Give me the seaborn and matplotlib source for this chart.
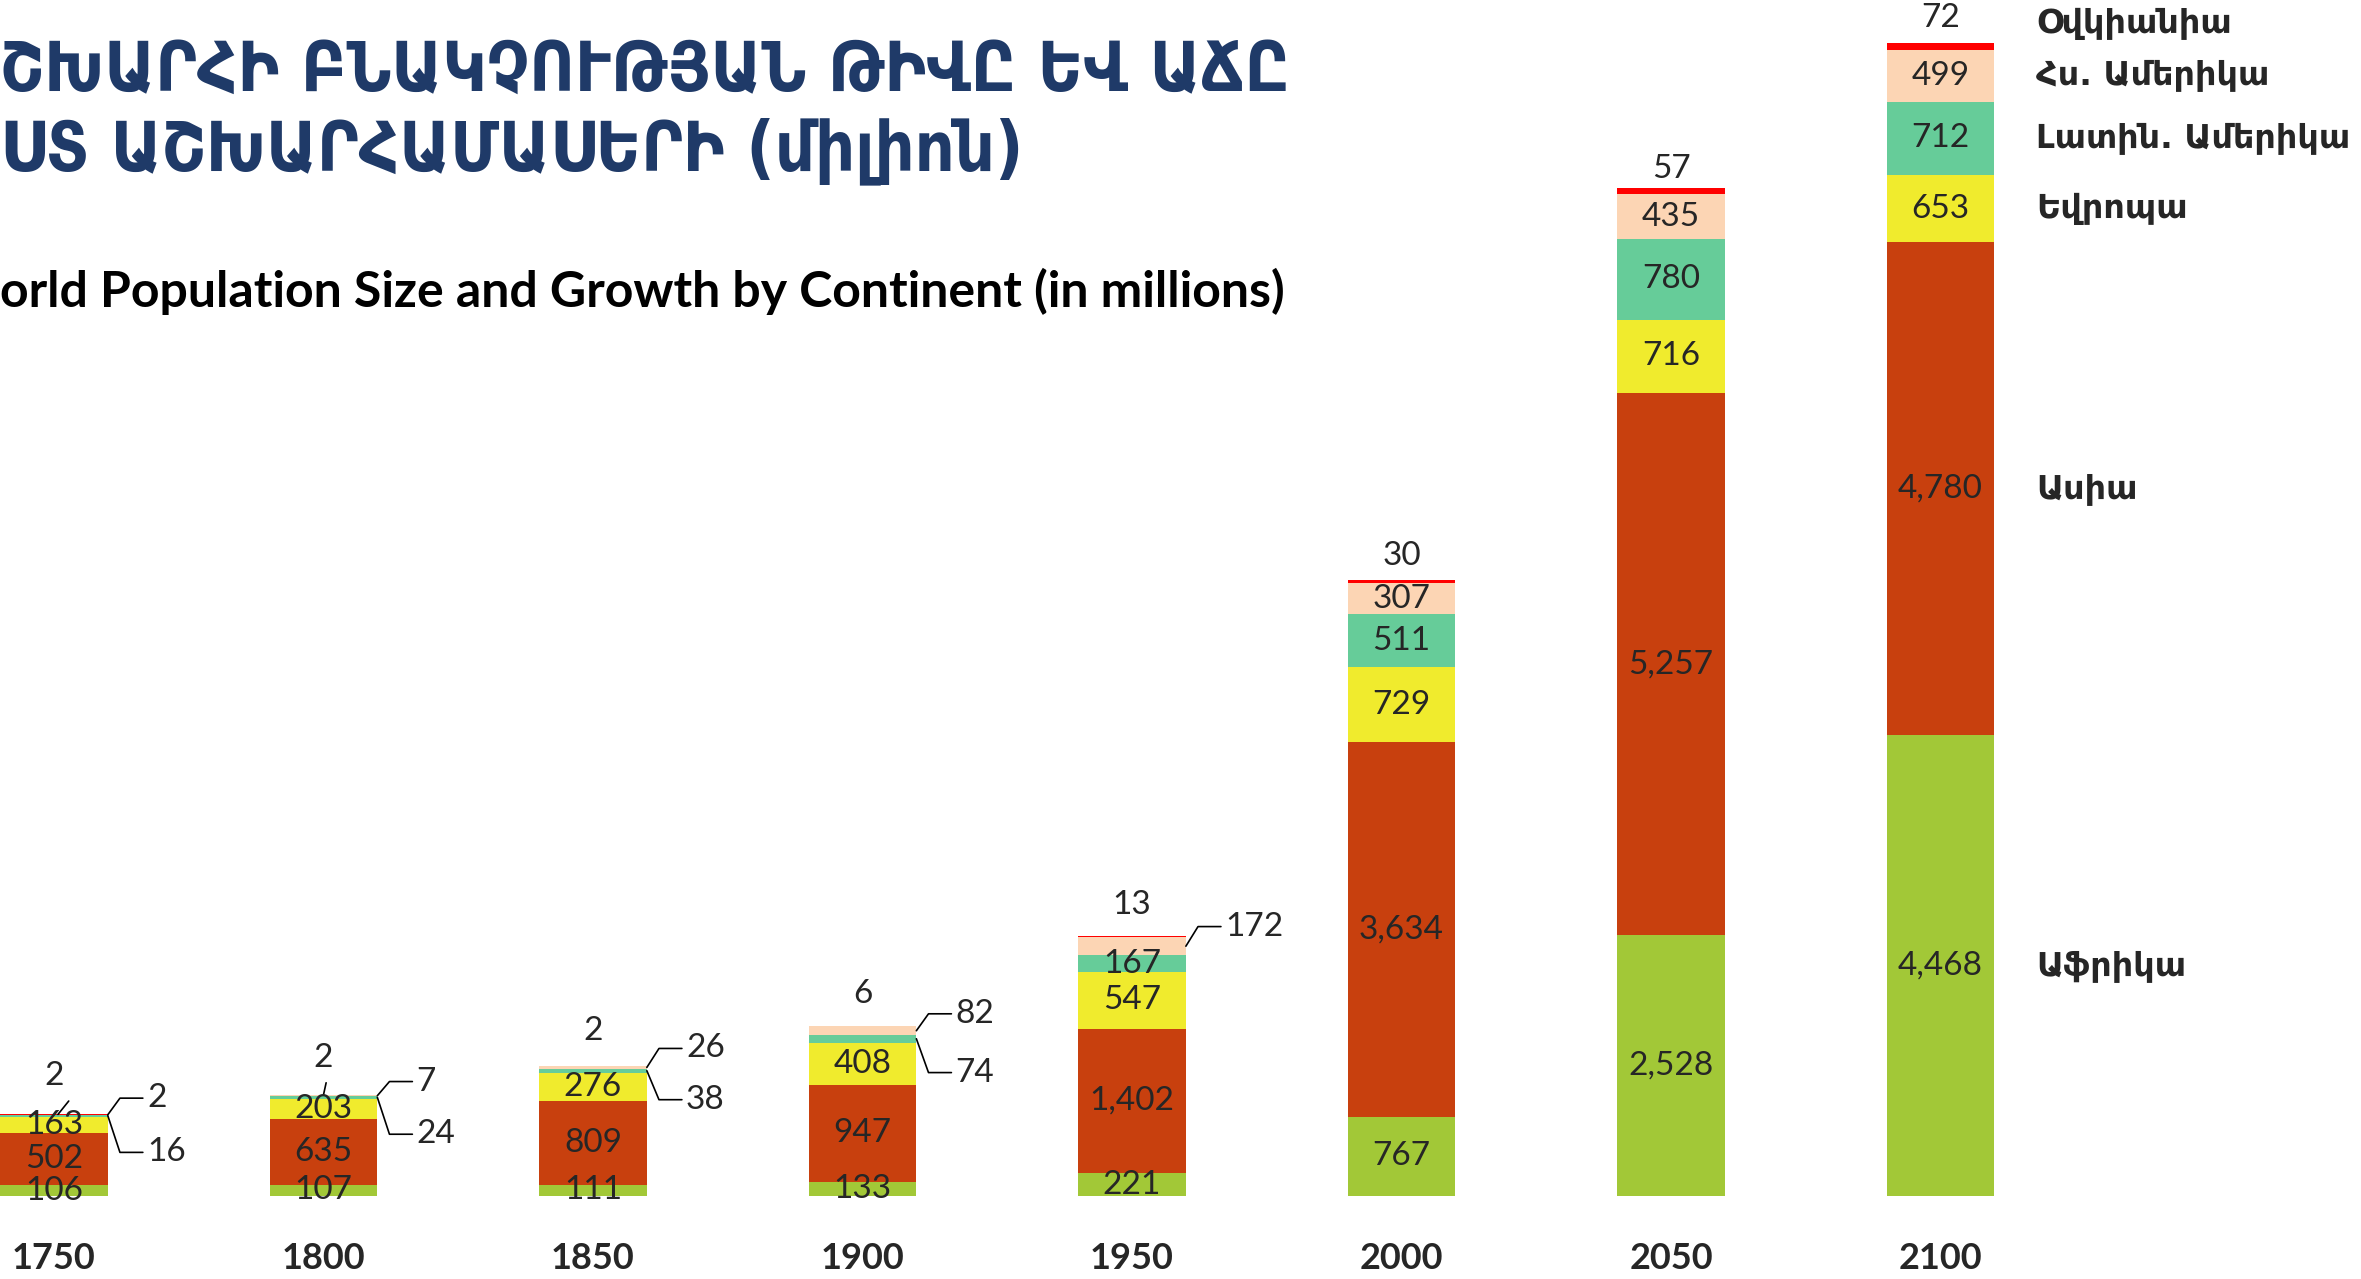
import numpy as np
import pandas as pd
import matplotlib
matplotlib.use('Agg')
import matplotlib.pyplot as plt
import seaborn as sns

# data (million people)
years = ['1750', '1800', '1850', '1900', '1950', '2000', '2050', '2100']
continents = ['Աֆրիկա', 'Ասիա', 'Եվրոպա', 'Լատին. Ամերիկա', 'Հս. Ամերիկա', 'Օվկիանիա']
africa = [106, 107, 111, 133, 221, 767, 2528, 4468]
asia = [502, 635, 809, 947, 1402, 3634, 5257, 4780]
europe = [163, 203, 276, 408, 547, 729, 716, 653]
latin_am = [16, 24, 38, 74, 167, 511, 780, 712]
north_am = [2, 7, 26, 82, 172, 307, 435, 499]
oceania = [2, 2, 2, 6, 13, 30, 57, 72]

colors = ['#A2C837', '#C8400E', '#F0EB2D', '#66CC99', '#FCD5B4', '#FF0000']

sns.set_style('white')
plt.rcParams['font.family'] = ['Lato', 'DejaVu Sans']

df = pd.DataFrame({'year': years, continents[0]: africa, continents[1]: asia,
                   continents[2]: europe, continents[3]: latin_am,
                   continents[4]: north_am, continents[5]: oceania})
vals = df[continents].to_numpy()
cum = vals.cumsum(axis=1)
bottoms = cum - vals
totals = cum[:, -1]

fig = plt.figure(figsize=(23.61, 12.79), dpi=100)
ax = fig.add_axes([0, 0.0649, 1, 0.9351])

# stacked bars: draw cumulative sums, top layer first
for k in range(len(continents) - 1, -1, -1):
    sns.barplot(x=df['year'], y=cum[:, k], color=colors[k], saturation=1,
                width=0.4, linewidth=0, order=years, ax=ax)

ax.set_xlim(-0.2, 8.56)
ax.set_ylim(0, 11600)
sns.despine(ax=ax, left=True, bottom=True)
ax.set_yticks([])
ax.set_ylabel('')
ax.set_xlabel('')
ax.set_xticks(range(len(years)))
ax.set_xticklabels(years, fontsize=26, fontweight='bold')
ax.tick_params(axis='x', length=0, pad=33)

# labels inside segments
for i in range(len(years)):
    for k in range(5):
        if k == 3 and i < 4:
            continue
        if k == 4 and i < 5:
            continue
        ax.text(i, bottoms[i, k] + vals[i, k] / 2, f'{vals[i, k]:,}',
                ha='center', va='center', fontsize=24)

# small segments with leader lines
up_off = [158, 132, 169, 117, 91]
lo_off = [-368, -379, -328, -453]
for i in range(5):
    leaders = [(4, up_off[i])]
    if i < 4:
        leaders.append((3, lo_off[i]))
    for k, off in leaders:
        ty = totals[i] + off
        ay = bottoms[i, k] + vals[i, k] / 2
        ax.plot([i + 0.2, i + 0.245, i + 0.33], [ay, ty, ty], color='black', lw=1.2)
        ax.text(i + 0.345, ty, f'{vals[i, k]:,}', ha='left', va='center', fontsize=24)

# oceania labels above bars
oc_off = [28, 27, 25, 23, 22, 17, 14, 18]
for i in range(len(years)):
    ax.annotate(f'{oceania[i]:,}', xy=(i, totals[i]), xytext=(0, oc_off[i]),
                textcoords='offset points', ha='center', va='center', fontsize=24)
# short leaders for the first two oceania labels
ax.plot([0.015, 0.055], [totals[0], totals[0] + 130], color='black', lw=1.2)
ax.plot([1.0, 1.01], [totals[1], totals[1] + 120], color='black', lw=1.2)

# continent names next to the 2100 bar
last = len(years) - 1
for k in range(len(continents)):
    if k == 5:
        ly = totals[last] + 190
    else:
        ly = bottoms[last, k] + vals[last, k] / 2
    ax.text(7.356, ly, continents[k], ha='left', va='center', fontsize=24,
            fontweight='bold', family=['DejaVu Sans'])

# titles
fig.text(0, 0.9445, 'ՇԽԱՐՀԻ ԲՆԱԿՉՈՒԹՅԱՆ ԹԻՎԸ ԵՎ ԱՃԸ', ha='left', va='center',
         fontsize=50, color='#1F3A68', fontweight='bold', fontstretch='condensed',
         family=['DejaVu Sans'])
fig.text(0, 0.882, 'ՍՏ ԱՇԽԱՐՀԱՄԱՍԵՐԻ (միլիոն)', ha='left', va='center',
         fontsize=50, color='#1F3A68', fontweight='bold', fontstretch='condensed',
         family=['DejaVu Sans'])
fig.text(0, 0.7725, 'orld Population Size and Growth by Continent (in millions)',
         ha='left', va='center', fontsize=36, fontweight='bold', color='black')

fig.savefig('out.png', dpi=100)
